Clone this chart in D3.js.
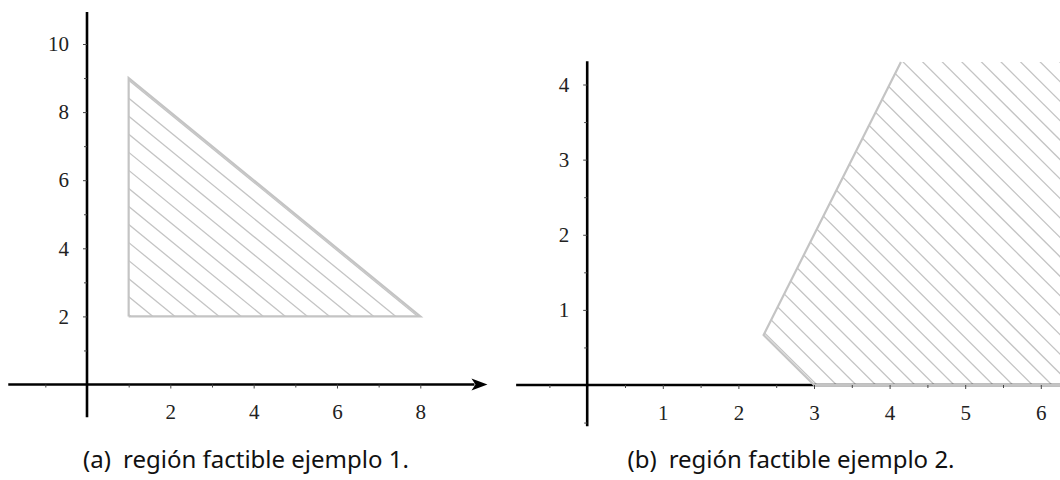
<!DOCTYPE html>
<html>
<head>
<meta charset="utf-8">
<script src="https://cdn.jsdelivr.net/npm/d3@7"></script>
<style>
  body { margin: 0; background: #fff; }
  svg { display: block; }
  .tick text { font-family: "Liberation Serif", serif; font-size: 21px; fill: #222; }
  .caption { font-family: "Noto Sans", sans-serif; font-size: 24px; fill: #111; }
</style>
</head>
<body>
<div id="chart"></div>
<script>
// panel (a)
const aXTicks = [2, 4, 6, 8];
const aYTicks = [2, 4, 6, 8, 10];
const aXMinor = [-1, 1, 3, 5, 7];
const aYMinor = [1, 3, 5, 7, 9];
const aRegion = [[1, 2], [1, 9], [8, 2]];
const aCaption = ["(a)", "región factible ejemplo 1."];

// panel (b)
const bXTicks = [1, 2, 3, 4, 5, 6];
const bYTicks = [1, 2, 3, 4];
const bXMinor = [-0.5, 0.5, 1.5, 2.5, 3.5, 4.5, 5.5, 6.5];
const bYMinor = [-0.5, 0.5, 1.5, 2.5, 3.5];
const bBorder = [[7, 0], [3, 0], [7 / 3, 2 / 3], [4.15, 4.3]];
const bRegion = [[3, 0], [7 / 3, 2 / 3], [4.15, 4.3], [7, 4.3], [7, 0]];
const bCaption = ["(b)", "región factible ejemplo 2."];

(function () {
  const W = 1060, H = 480;
  const regionGrey = "#c4c4c4";

  const svg = d3.select("#chart").append("svg")
    .attr("width", W).attr("height", H);

  const panels = [
    {
      id: "a",
      x: d3.scaleLinear().domain([0, 8]).range([87, 420.3]),
      y: d3.scaleLinear().domain([0, 10]).range([384.5, 44]),
      xExtent: [-1.89, 9.3], yExtent: [-0.96, 10.94],
      arrow: true,
      xTicks: aXTicks, yTicks: aYTicks, xMinor: aXMinor, yMinor: aYMinor,
      region: aRegion, border: aRegion.concat([aRegion[0]]),
      hatch: { start: 3.05, step: 0.53, end: 10 },
      caption: aCaption, captionX: 246
    },
    {
      id: "b",
      x: d3.scaleLinear().domain([0, 6]).range([587.2, 1040.8]),
      y: d3.scaleLinear().domain([0, 4]).range([385, 84.5]),
      xExtent: [-0.94, 7.2], yExtent: [-0.55, 4.31],
      arrow: false,
      xTicks: bXTicks, yTicks: bYTicks, xMinor: bXMinor, yMinor: bYMinor,
      region: bRegion, border: bBorder,
      hatch: { start: 3.04, step: 0.259, end: 11.5 },
      caption: bCaption, captionX: 791
    }
  ];

  panels.forEach(drawPanel);

  function drawPanel(p) {
    const g = svg.append("g").attr("class", "panel-" + p.id);
    const line = d3.line().x(d => p.x(d[0])).y(d => p.y(d[1]));

    // hatch lines x + y = c, clipped to the region
    svg.append("defs").append("clipPath").attr("id", "clip-" + p.id)
      .append("path").attr("d", line(p.region) + "Z");

    const [y0, y1] = [-2, 12];
    const cs = d3.range(p.hatch.start, p.hatch.end, p.hatch.step);
    g.append("g").attr("clip-path", `url(#clip-${p.id})`)
      .selectAll("path").data(cs).join("path")
      .attr("d", c => line([[c - y0, y0], [c - y1, y1]]))
      .attr("stroke", regionGrey).attr("stroke-width", 1.3).attr("fill", "none");

    // axis lines
    g.append("line")
      .attr("x1", p.x(p.xExtent[0])).attr("x2", p.x(p.xExtent[1]))
      .attr("y1", p.y(0)).attr("y2", p.y(0))
      .attr("stroke", "#000").attr("stroke-width", 2.6);
    g.append("line")
      .attr("x1", p.x(0)).attr("x2", p.x(0))
      .attr("y1", p.y(p.yExtent[0])).attr("y2", p.y(p.yExtent[1]))
      .attr("stroke", "#000").attr("stroke-width", 2.6);

    if (p.arrow) {
      const tx = p.x(p.xExtent[1]) + 13, ty = p.y(0);
      g.append("path")
        .attr("d", `M${tx},${ty} L${tx - 16},${ty - 6} L${tx - 12},${ty} L${tx - 16},${ty + 6} Z`)
        .attr("fill", "#000");
    }

    // region border, drawn over the axis
    g.append("path").attr("d", line(p.border))
      .attr("fill", "none").attr("stroke", regionGrey)
      .attr("stroke-width", 2.2).attr("stroke-linejoin", "miter");

    // major ticks + labels
    const xAxis = d3.axisBottom(p.x).tickValues(p.xTicks).tickFormat(d3.format("d"))
      .tickSizeInner(4).tickSizeOuter(0).tickPadding(16);
    const yAxis = d3.axisLeft(p.y).tickValues(p.yTicks).tickFormat(d3.format("d"))
      .tickSizeInner(4).tickSizeOuter(0).tickPadding(14);

    g.append("g").attr("transform", `translate(0,${p.y(0)})`).call(xAxis)
      .call(s => s.select(".domain").remove());
    g.append("g").attr("transform", `translate(${p.x(0)},0)`).call(yAxis)
      .call(s => s.select(".domain").remove());

    // minor ticks
    g.append("g").attr("transform", `translate(0,${p.y(0)})`)
      .call(d3.axisBottom(p.x).tickValues(p.xMinor).tickSize(3).tickFormat(""))
      .call(s => s.select(".domain").remove());
    g.append("g").attr("transform", `translate(${p.x(0)},0)`)
      .call(d3.axisLeft(p.y).tickValues(p.yMinor).tickSize(3).tickFormat(""))
      .call(s => s.select(".domain").remove());

    g.selectAll(".tick line").attr("stroke", "#444").attr("stroke-width", 1);

    // caption: label, wider gap, text
    const cap = g.append("text").attr("class", "caption")
      .attr("x", p.captionX).attr("y", 468)
      .attr("text-anchor", "middle");
    cap.append("tspan").text(p.caption[0]);
    cap.append("tspan").attr("dx", 12).text(p.caption[1]);
  }
})();
</script>
</body>
</html>
